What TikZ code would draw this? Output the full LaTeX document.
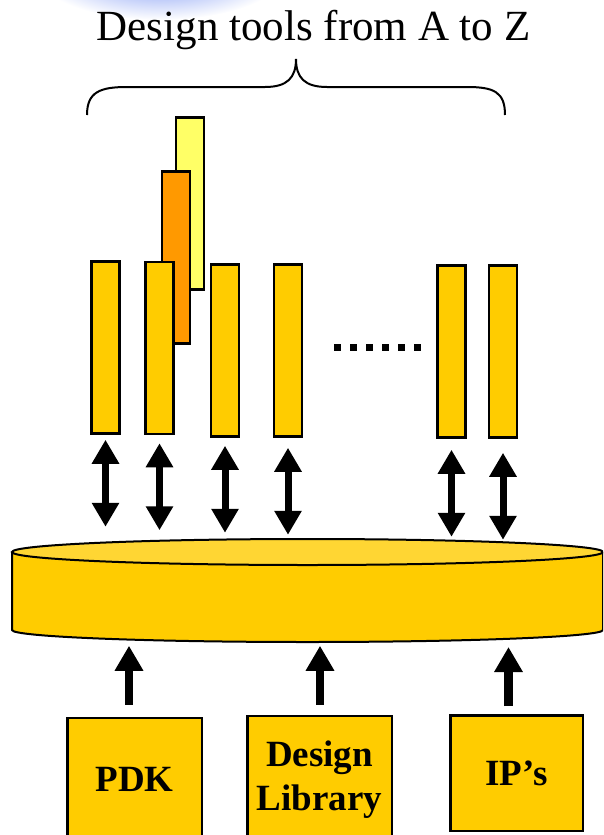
\documentclass[tikz,border=0pt]{standalone}
\usepackage{fontspec}
\setmainfont{Liberation Serif}
\usetikzlibrary{arrows.meta}
\definecolor{gold}{HTML}{FFCC00}
\definecolor{goldtop}{HTML}{FFD633}
\definecolor{toolorange}{HTML}{FF9900}
\definecolor{toolyellow}{HTML}{FFFF66}
\definecolor{glowblue}{HTML}{6F8CF2}
\tikzset{
    toolbar/.style = {
        rectangle,
        draw=black,
        line width=2.5pt,
        fill=gold,
        inner sep=0pt,
        minimum width=28pt,
        minimum height=172pt
    },
    sourcebox/.style = {
        rectangle,
        draw=black,
        line width=2.5pt,
        fill=gold,
        align=center,
        inner sep=0pt,
        font=\fontsize{37}{44}\selectfont\bfseries,
        minimum width=134.5pt
    },
    dblarrow/.style = {
        line width=7pt,
        {Triangle[length=24pt,width=26pt]}-{Triangle[length=24pt,width=26pt]}
    },
    uparrow/.style = {
        line width=8.5pt,
        -{Triangle[length=25pt,width=27pt]}
    }
}

\begin{document}
\begin{tikzpicture}[x=1pt, y=-1pt]
    \useasboundingbox (0,0) rectangle (603,835);
    \clip (0,0) rectangle (603,835);
    % glow at the top
    \shade[inner color=glowblue, outer color=white] (160,-28) ellipse [x radius=125, y radius=48];
    \node (title) at (313.5,30) {\fontsize{43}{48}\selectfont Design tools from A to Z};
    \draw[line width=2pt] (87,115) .. controls (87,92) and (100,87) .. (127,87) -- (265,87)
        .. controls (287,87) and (296,78) .. (296,59)
        .. controls (296,78) and (305,87) .. (327,87) -- (467,87)
        .. controls (494,87) and (505,92) .. (505,115);
    % tools
    \node[toolbar, fill=toolyellow] (ty) at (190,203.5) {};
    \node[toolbar, fill=toolorange] (to) at (176,257.5) {};
    \foreach \i/\x/\y in {1/105.5/347.5, 2/159.5/348, 3/225/350.5, 4/288/350.5, 5/451.5/351.5, 6/503/351.5}
        \node[toolbar] (b\i) at (\x,\y) {};
    \foreach \x in {337,353,...,417}
        \fill (\x-3.5,343.5) rectangle ++(7,7);
    % database
    \draw[fill=gold, line width=2pt] (12,552) -- (12,630)
        arc[start angle=180, end angle=0, x radius=295.5, y radius=12] -- (603,552);
    \draw[fill=goldtop, line width=2pt] (307.5,552) ellipse [x radius=295.5, y radius=13];
    \foreach \i/\gap in {1/5pt, 2/8pt, 3/8pt, 4/10pt, 5/11pt, 6/14pt}
        \draw[dblarrow] ([yshift=-\gap]b\i.south) -- ++(0,87);
    % sources
    \node[sourcebox, minimum height=122pt] (pdk) at (134.5,779) {PDK};
    \node[sourcebox, minimum height=128pt, minimum width=144.5pt] (lib) at (319.5,780) {Design\\Library};
    \node[sourcebox, minimum height=115.5pt, minimum width=132.5pt] (ips) at (516.5,773) {IP's};
    \draw[uparrow] ([xshift=-5.5pt,yshift=12pt]pdk.north) -- ++(0,-59);
    \draw[uparrow] ([xshift=0.5pt,yshift=10pt]lib.north) -- ++(0,-59);
    \draw[uparrow] ([xshift=-8pt,yshift=8pt]ips.north) -- ++(0,-59);
\end{tikzpicture}
\end{document}
